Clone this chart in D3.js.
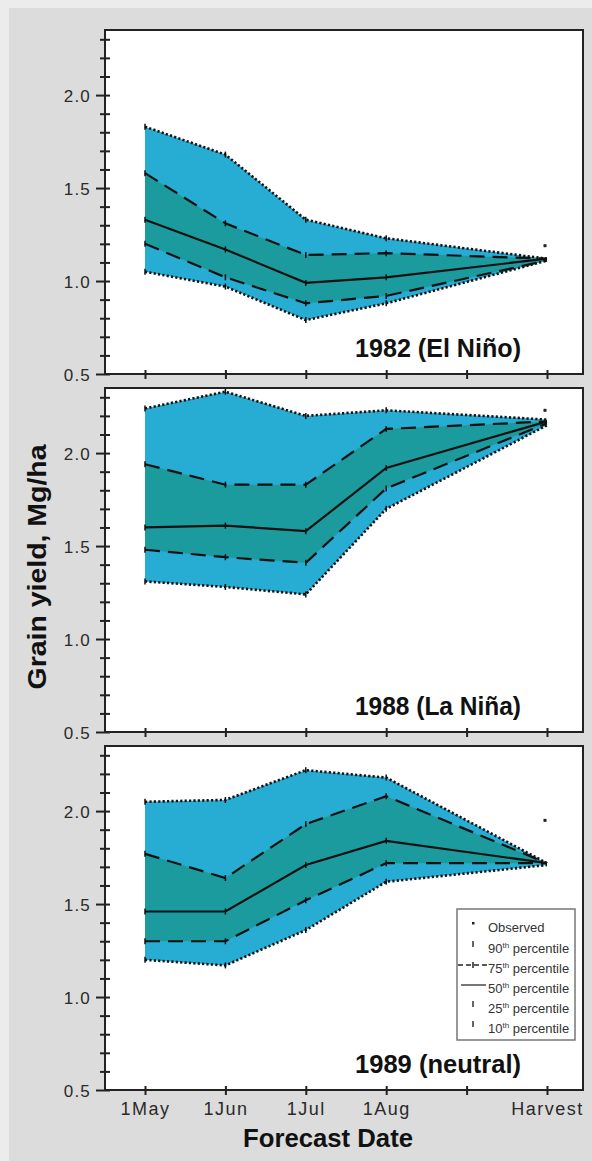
<!DOCTYPE html>
<html>
<head>
<meta charset="utf-8">
<script src="https://cdn.jsdelivr.net/npm/d3@7"></script>
<style>
  html, body { margin: 0; padding: 0; background: #dcdcdc; }
  svg { display: block; }
  text { font-family: "Liberation Sans", Arial, sans-serif; }
</style>
</head>
<body>
<svg id="chart" width="592" height="1161"></svg>
<script>
// ---------- data ----------
const xKeys = ["1May", "1Jun", "1Jul", "1Aug", "1Sep", "Harvest"];
const xTickLabels = ["1May", "1Jun", "1Jul", "1Aug", "", "Harvest"];
const forecastDates = ["1May", "1Jun", "1Jul", "1Aug", "Harvest"];
const panelTitles = ["1982 (El Niño)", "1988 (La Niña)", "1989 (neutral)"];

const p90_1982 = [1.83, 1.68, 1.33, 1.23, 1.12];
const p75_1982 = [1.58, 1.31, 1.14, 1.15, 1.12];
const p50_1982 = [1.33, 1.17, 0.99, 1.02, 1.12];
const p25_1982 = [1.20, 1.02, 0.88, 0.92, 1.11];
const p10_1982 = [1.05, 0.97, 0.79, 0.88, 1.11];

const p90_1988 = [2.24, 2.33, 2.20, 2.23, 2.18];
const p75_1988 = [1.94, 1.83, 1.83, 2.13, 2.17];
const p50_1988 = [1.60, 1.61, 1.58, 1.92, 2.17];
const p25_1988 = [1.48, 1.44, 1.41, 1.81, 2.16];
const p10_1988 = [1.31, 1.28, 1.24, 1.70, 2.15];

const p90_1989 = [2.05, 2.06, 2.22, 2.18, 1.72];
const p75_1989 = [1.77, 1.64, 1.93, 2.08, 1.72];
const p50_1989 = [1.46, 1.46, 1.71, 1.84, 1.72];
const p25_1989 = [1.30, 1.30, 1.52, 1.72, 1.72];
const p10_1989 = [1.20, 1.17, 1.36, 1.62, 1.71];

const observedHarvest = [1.19, 2.23, 1.95];

const yMajorTicks = [0.5, 1.0, 1.5, 2.0];
const yMinorTicks = [0.5, 0.6, 0.7, 0.8, 0.9, 1.0, 1.1, 1.2, 1.3, 1.4, 1.5, 1.6, 1.7, 1.8, 1.9, 2.0, 2.1, 2.2, 2.3];
const yDomain = [0.5, 2.35];

const legendLabels = [
  { main: "Observed", sup: "", rest: "" },
  { main: "90", sup: "th", rest: " percentile" },
  { main: "75", sup: "th", rest: " percentile" },
  { main: "50", sup: "th", rest: " percentile" },
  { main: "25", sup: "th", rest: " percentile" },
  { main: "10", sup: "th", rest: " percentile" }
];

const panels = [
  { p90: p90_1982, p75: p75_1982, p50: p50_1982, p25: p25_1982, p10: p10_1982 },
  { p90: p90_1988, p75: p75_1988, p50: p50_1988, p25: p25_1988, p10: p10_1988 },
  { p90: p90_1989, p75: p75_1989, p50: p50_1989, p25: p25_1989, p10: p10_1989 }
];

// ---------- layout ----------
const W = 592, H = 1161;
const left = 105, right = 583;
const panelTops = [30, 388, 746];
const panelH = 344;
const outerColor = "#27acd3";
const innerColor = "#1c9b9e";
const ink = "#111";

const svg = d3.select("#chart");
svg.append("rect").attr("width", W).attr("height", H).attr("fill", "#dcdcdc");
svg.append("rect").attr("width", W).attr("height", 8).attr("fill", "#ececec");
svg.append("rect").attr("width", 9).attr("height", H).attr("fill", "#ececec");

const x = d3.scalePoint().domain(xKeys).range([145, 547]);
const isMajor = d => yMajorTicks.some(m => Math.abs(m - d) < 1e-6);

panels.forEach((p, pi) => {
  const top = panelTops[pi];
  const g = svg.append("g").attr("transform", `translate(0,${top})`);
  const y = d3.scaleLinear().domain(yDomain).range([panelH, 0]);

  const rows = forecastDates.map((k, i) => ({
    k, p90: p.p90[i], p75: p.p75[i], p50: p.p50[i], p25: p.p25[i], p10: p.p10[i]
  }));

  g.append("rect").attr("x", left).attr("y", 0)
    .attr("width", right - left).attr("height", panelH).attr("fill", "#fff");

  const areaOuter = d3.area().x(d => x(d.k)).y0(d => y(d.p10)).y1(d => y(d.p90));
  const areaInner = d3.area().x(d => x(d.k)).y0(d => y(d.p25)).y1(d => y(d.p75));
  g.append("path").datum(rows).attr("d", areaOuter).attr("fill", outerColor);
  g.append("path").datum(rows).attr("d", areaInner).attr("fill", innerColor);

  const lineStyles = [
    { key: "p90", dash: "2.2,2.2", w: 2.6 },
    { key: "p10", dash: "2.2,2.2", w: 2.6 },
    { key: "p75", dash: "15,8", w: 2.2 },
    { key: "p25", dash: "15,8", w: 2.2 },
    { key: "p50", dash: null, w: 2.2 }
  ];
  lineStyles.forEach(s => {
    const ln = d3.line().x(d => x(d.k)).y(d => y(d[s.key]));
    g.append("path").datum(rows).attr("d", ln)
      .attr("fill", "none").attr("stroke", ink).attr("stroke-width", s.w)
      .attr("stroke-dasharray", s.dash);
    // small tick markers at forecast points
    g.selectAll(null).data(rows.slice(0, 4)).enter().append("line")
      .attr("x1", d => x(d.k)).attr("x2", d => x(d.k))
      .attr("y1", d => y(d[s.key]) - 3).attr("y2", d => y(d[s.key]) + 3)
      .attr("stroke", ink).attr("stroke-width", 1.5);
  });

  // observed
  g.append("rect")
    .attr("x", x("Harvest") - 3.5).attr("y", y(observedHarvest[pi]) - 1.5)
    .attr("width", 3).attr("height", 3).attr("fill", "#222");

  // frame
  g.append("rect").attr("x", left).attr("y", 0)
    .attr("width", right - left).attr("height", panelH)
    .attr("fill", "none").attr("stroke", "#222").attr("stroke-width", 2);

  // y axis
  const ya = g.append("g").attr("transform", `translate(${left},0)`)
    .call(d3.axisLeft(y).tickValues(yMinorTicks).tickSizeInner(5).tickSizeOuter(0)
      .tickFormat(d => isMajor(d) ? d.toFixed(1) : ""));
  ya.select(".domain").remove();
  ya.selectAll(".tick line")
    .attr("x1", 5).attr("x2", d => isMajor(d) ? -9 : -5)
    .attr("stroke", "#222").attr("stroke-width", 2);
  ya.selectAll(".tick text")
    .attr("x", -14).attr("dy", "0.36em")
    .attr("fill", "#2a2a2a").style("font-size", "17px").style("letter-spacing", "1.2px")
    .style("font-family", "'Liberation Sans', Arial, sans-serif");

  // x axis
  const xa = g.append("g").attr("transform", `translate(0,${panelH})`)
    .call(d3.axisBottom(x).tickSizeInner(5).tickSizeOuter(0)
      .tickFormat((d, i) => pi === 2 ? xTickLabels[i] : ""));
  xa.select(".domain").remove();
  xa.selectAll(".tick line").attr("y1", -4).attr("y2", 5)
    .attr("stroke", "#222").attr("stroke-width", 2);
  xa.selectAll(".tick text")
    .attr("y", 12).attr("dy", "0.71em")
    .attr("fill", "#2a2a2a").style("font-size", "18px").style("letter-spacing", "1.5px")
    .style("font-family", "'Liberation Sans', Arial, sans-serif");

  // title
  g.append("text")
    .attr("x", 355).attr("y", panelH - 17)
    .attr("font-size", 25).attr("font-weight", "bold").attr("fill", "#111")
    .attr("textLength", 166).attr("lengthAdjust", "spacingAndGlyphs")
    .text(panelTitles[pi]);

  // legend in last panel
  if (pi === 2) {
    const lg = g.append("g").attr("transform", `translate(457,163)`);
    lg.append("rect").attr("width", 118).attr("height", 131)
      .attr("fill", "#fff").attr("stroke", "#777").attr("stroke-width", 1.5);
    const rowY = [19, 40, 60, 80, 100, 120];
    const sx = 16;
    legendLabels.forEach((l, i) => {
      const t = lg.append("text").attr("x", 31).attr("y", rowY[i] + 4)
        .attr("font-size", 13).attr("fill", "#333");
      t.append("tspan").text(l.main);
      if (l.sup) {
        t.append("tspan").attr("font-size", 8).attr("dy", -5).text(l.sup);
        t.append("tspan").attr("dy", 5).text(l.rest);
      }
    });
    // symbols
    lg.append("rect").attr("x", sx - 1).attr("y", rowY[0] - 6).attr("width", 2.5).attr("height", 2.5).attr("fill", "#222");
    [1, 4, 5].forEach(i => {
      lg.append("line").attr("x1", sx).attr("x2", sx).attr("y1", rowY[i] - 8).attr("y2", rowY[i] - 2)
        .attr("stroke", "#333").attr("stroke-width", 1.5);
    });
    lg.append("line").attr("x1", 1).attr("x2", 31).attr("y1", rowY[2] - 4).attr("y2", rowY[2] - 4)
      .attr("stroke", "#222").attr("stroke-width", 1.5).attr("stroke-dasharray", "5,3");
    lg.append("line").attr("x1", sx).attr("x2", sx).attr("y1", rowY[2] - 7).attr("y2", rowY[2] - 1)
      .attr("stroke", "#222").attr("stroke-width", 1.5);
    lg.append("line").attr("x1", 4).attr("x2", 29).attr("y1", rowY[3] - 4).attr("y2", rowY[3] - 4)
      .attr("stroke", "#777").attr("stroke-width", 2);
  }
});

// axis titles
svg.append("text")
  .attr("transform", "translate(46,567) rotate(-90)")
  .attr("text-anchor", "middle")
  .attr("font-size", 26).attr("font-weight", "bold").attr("fill", "#111")
  .attr("textLength", 245).attr("lengthAdjust", "spacingAndGlyphs")
  .text("Grain yield, Mg/ha");

svg.append("text")
  .attr("x", 328).attr("y", 1147)
  .attr("text-anchor", "middle")
  .attr("font-size", 26).attr("font-weight", "bold").attr("fill", "#111")
  .attr("textLength", 170).attr("lengthAdjust", "spacingAndGlyphs")
  .text("Forecast Date");
</script>
</body>
</html>
